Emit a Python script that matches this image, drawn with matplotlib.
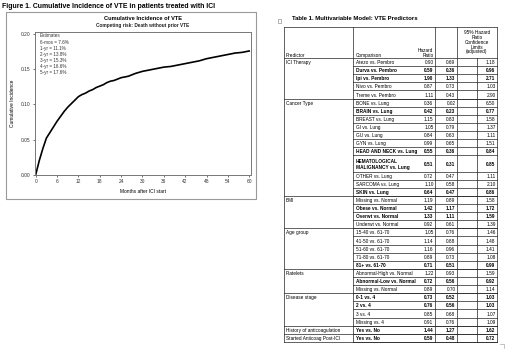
import matplotlib
matplotlib.use('Agg')
import matplotlib.pyplot as plt
from matplotlib.patches import Rectangle

plt.rcParams['font.family'] = ['Liberation Sans', 'DejaVu Sans']

# ---- curve ----
months = [0, 0.5, 1, 2, 3, 4, 5, 6, 7, 8, 9, 10, 11, 12, 13, 14, 15, 16, 17, 18,
          19, 20, 21, 22, 23, 24, 26, 28, 30, 32, 34, 36, 38, 40, 42, 44, 46, 48,
          50, 52, 54, 56, 58, 60]
cum_inc = [0.000, 0.010, 0.020, 0.037, 0.052, 0.060, 0.068, 0.076, 0.083, 0.090,
           0.096, 0.101, 0.106, 0.111, 0.114, 0.116, 0.119, 0.121, 0.124, 0.126,
           0.128, 0.131, 0.133, 0.134, 0.136, 0.138, 0.140, 0.144, 0.147, 0.149,
           0.151, 0.153, 0.154, 0.156, 0.158, 0.160, 0.162, 0.165, 0.167, 0.169,
           0.171, 0.173, 0.174, 0.176]
estimates = ["Estimates", "6-mos = 7.6%", "1-yr = 11.1%", "2-yr = 13.8%",
             "3-yr = 15.3%", "4-yr = 16.6%", "5-yr = 17.6%"]
x_ticks = [0, 6, 12, 18, 24, 30, 36, 42, 48, 54, 60]
y_ticks = [0.00, 0.05, 0.10, 0.15, 0.20]

# ---- table ----
group_names = ["ICI Therapy", "Cancer Type", "BMI", "Age group", "Platelets",
               "Disease stage", "History of anticoagulation", "Started Anticoag Post-ICI"]
group_sizes = [5, 11, 4, 5, 3, 4, 1, 1]
comparisons = ["Atezo vs. Pembro", "Durva vs. Pembro", "Ipi vs. Pembro", "Nivo vs. Pembro",
               "Treme vs. Pembro",
               "BONE vs. Lung", "BRAIN vs. Lung", "BREAST vs. Lung", "GI vs. Lung", "GU vs. Lung",
               "GYN vs. Lung", "HEAD AND NECK vs. Lung", "HEMATOLOGICAL\nMALIGNANCY vs. Lung",
               "OTHER vs. Lung", "SARCOMA vs. Lung", "SKIN vs. Lung",
               "Missing vs. Normal", "Obese vs. Normal", "Overwt vs. Normal", "Underwt vs. Normal",
               "15-40 vs. 61-70", "41-50 vs. 61-70", "51-60 vs. 61-70", "71-80 vs. 61-70",
               "81+ vs. 61-70",
               "Abnormal-High vs. Normal", "Abnormal-Low vs. Normal", "Missing vs. Normal",
               "0-1 vs. 4", "2 vs. 4", "3 vs. 4", "Missing vs. 4",
               "Yes vs. No", "Yes vs. No"]
hazard = ["0.90", "0.59", "1.90", "0.87", "1.11",
          "0.36", "0.42", "1.15", "1.05", "0.84", "0.99", "0.55", "0.51", "0.72", "1.10", "0.64",
          "1.19", "1.42", "1.33", "0.92",
          "1.05", "1.14", "1.16", "0.89", "0.71",
          "1.22", "0.72", "0.89",
          "0.73", "0.76", "0.85", "0.91",
          "1.44", "0.59"]
lower = ["0.69", "0.36", "1.33", "0.73", "0.43",
         "0.02", "0.23", "0.83", "0.79", "0.63", "0.65", "0.36", "0.31", "0.47", "0.58", "0.47",
         "0.89", "1.17", "1.11", "0.61",
         "0.76", "0.88", "0.96", "0.73", "0.51",
         "0.93", "0.56", "0.70",
         "0.52", "0.56", "0.68", "0.76",
         "1.27", "0.48"]
upper = ["1.18", "0.96", "2.71", "1.03", "2.90",
         "6.50", "0.77", "1.58", "1.37", "1.11", "1.51", "0.84", "0.85", "1.11", "2.10", "0.86",
         "1.58", "1.72", "1.59", "1.39",
         "1.46", "1.48", "1.41", "1.08", "0.99",
         "1.59", "0.92", "1.14",
         "1.03", "1.03", "1.07", "1.09",
         "1.62", "0.72"]
significant = [False, True, True, False, False,
               False, True, False, False, False, False, True, True, False, False, True,
               False, True, True, False,
               False, False, False, False, True,
               False, True, False,
               True, True, False, False,
               True, True]

W, H = 520, 358
fig = plt.figure(figsize=(W / 100, H / 100), dpi=100)
fig.patch.set_facecolor('white')

# overlay in pixel coordinates for titles, frame and the table
ov = fig.add_axes([0, 0, 1, 1])
ov.set_xlim(0, W)
ov.set_ylim(H, 0)
ov.axis('off')

# ==== left panel ====
ov.text(2, 6.5, "Figure 1. Cumulative Incidence of VTE in patients treated with ICI",
        fontsize=4.95, fontweight='bold', ha='left', va='center')
ov.add_patch(Rectangle((6, 12), 250, 187, fill=False, edgecolor='#9a9a9a', lw=0.8))
ov.text(143, 19, "Cumulative Incidence of VTE", fontsize=4.1, fontweight='bold',
        ha='center', va='center')
ov.text(143, 25.3, "Competing risk: Death without prior VTE", fontsize=3.4,
        fontweight='bold', ha='center', va='center', color='#222')

ax = fig.add_axes([35 / W, 1 - 175 / H, 216 / W, 143 / H])
ax.plot(months, cum_inc, color='black', lw=1.2, solid_joinstyle='round')
ax.set_xlim(-0.2, 60.5)
ax.set_ylim(-0.0005, 0.203)
ax.set_xticks(x_ticks)
ax.set_yticks(y_ticks)
ax.set_yticklabels([f"{v:.2f}" for v in y_ticks])
ax.tick_params(labelsize=3.5, length=1.5, width=0.5, pad=1.5, colors='#333')
for s in ax.spines.values():
    s.set_color('#777')
    s.set_linewidth(0.7)
ax.set_xlabel("Months after ICI start", fontsize=3.5, labelpad=3.5)
ax.set_ylabel("Cumulative Incidence", fontsize=3.5, labelpad=4.5)
for i, t in enumerate(estimates):
    ax.text(1.2, 0.1975 - i * 0.0088, t, fontsize=3.3, ha='left', va='center', color='#333')

# ==== table ====
ov.text(292, 19, "Table 1. Multivariable Model: VTE Predictors", fontsize=4.3,
        fontweight='bold', ha='left', va='center')
# tiny move handle
ov.add_patch(Rectangle((278, 19), 3, 4, fill=False, edgecolor='#777', lw=0.4))

x_left, x_pred, x_hr, x_lo, x_hi, x_right = 284, 353, 435, 457, 477, 497
top, head_bot, row_h = 27, 58, 8.11
lc = '#222'
lw = 0.5
fs = 3.4

# header
ov.text(286, 55.5, "Predictor", fontsize=fs, ha='left', va='center')
ov.text(356, 55.5, "Comparison", fontsize=fs, ha='left', va='center')
for j, t in enumerate(["Hazard", "Ratio"]):
    ov.text(433.5, 50.6 + j * 4.7, t, fontsize=fs, ha='right', va='center')
for j, t in enumerate(["95% Hazard", "Ratio", "Confidence", "Limits", "(adjusted)"]):
    ov.text((x_lo + x_right) / 2, 33 + j * 4.75, t, fontsize=fs, ha='center', va='center')

# rows
y = head_bot
row_tops = []
for i, comp in enumerate(comparisons):
    nl = comp.count("\n") + 1
    h = row_h * nl
    row_tops.append(y)
    wt = 'bold' if significant[i] else 'normal'
    yc = y + h / 2 + 0.6
    ov.text(355.5, yc, comp, fontsize=fs, ha='left', va='center', fontweight=wt,
            linespacing=1.25)
    ov.text(x_hr - 1.5, yc, hazard[i], fontsize=fs, ha='right', va='center', fontweight=wt)
    ov.text(x_lo - 1.5, yc, lower[i], fontsize=fs, ha='right', va='center', fontweight=wt)
    ov.text(x_right - 1.5, yc, upper[i], fontsize=fs, ha='right', va='center', fontweight=wt)
    y += h
    ov.plot([x_pred, x_right], [y, y], color=lc, lw=lw)
bottom = y

# group labels and separators
k = 0
for name, n in zip(group_names, group_sizes):
    gy = row_tops[k]
    ov.text(286, gy + row_h / 2 + 0.6, name, fontsize=fs, ha='left', va='center')
    ov.plot([x_left, x_right], [gy, gy], color=lc, lw=lw)
    k += n

ov.plot([x_left, x_right], [top, top], color=lc, lw=lw)
ov.plot([x_left, x_right], [bottom, bottom], color=lc, lw=lw)
for xv in [x_left, x_pred, x_hr, x_lo, x_right]:
    ov.plot([xv, xv], [top, bottom], color=lc, lw=lw)
ov.plot([x_hi, x_hi], [head_bot, bottom], color=lc, lw=lw)

# corner marker at the bottom right
ov.plot([500, 504, 504], [344, 344, 348], color='#aaa', lw=0.5)

fig.savefig('out.png', dpi=100, facecolor='white')
